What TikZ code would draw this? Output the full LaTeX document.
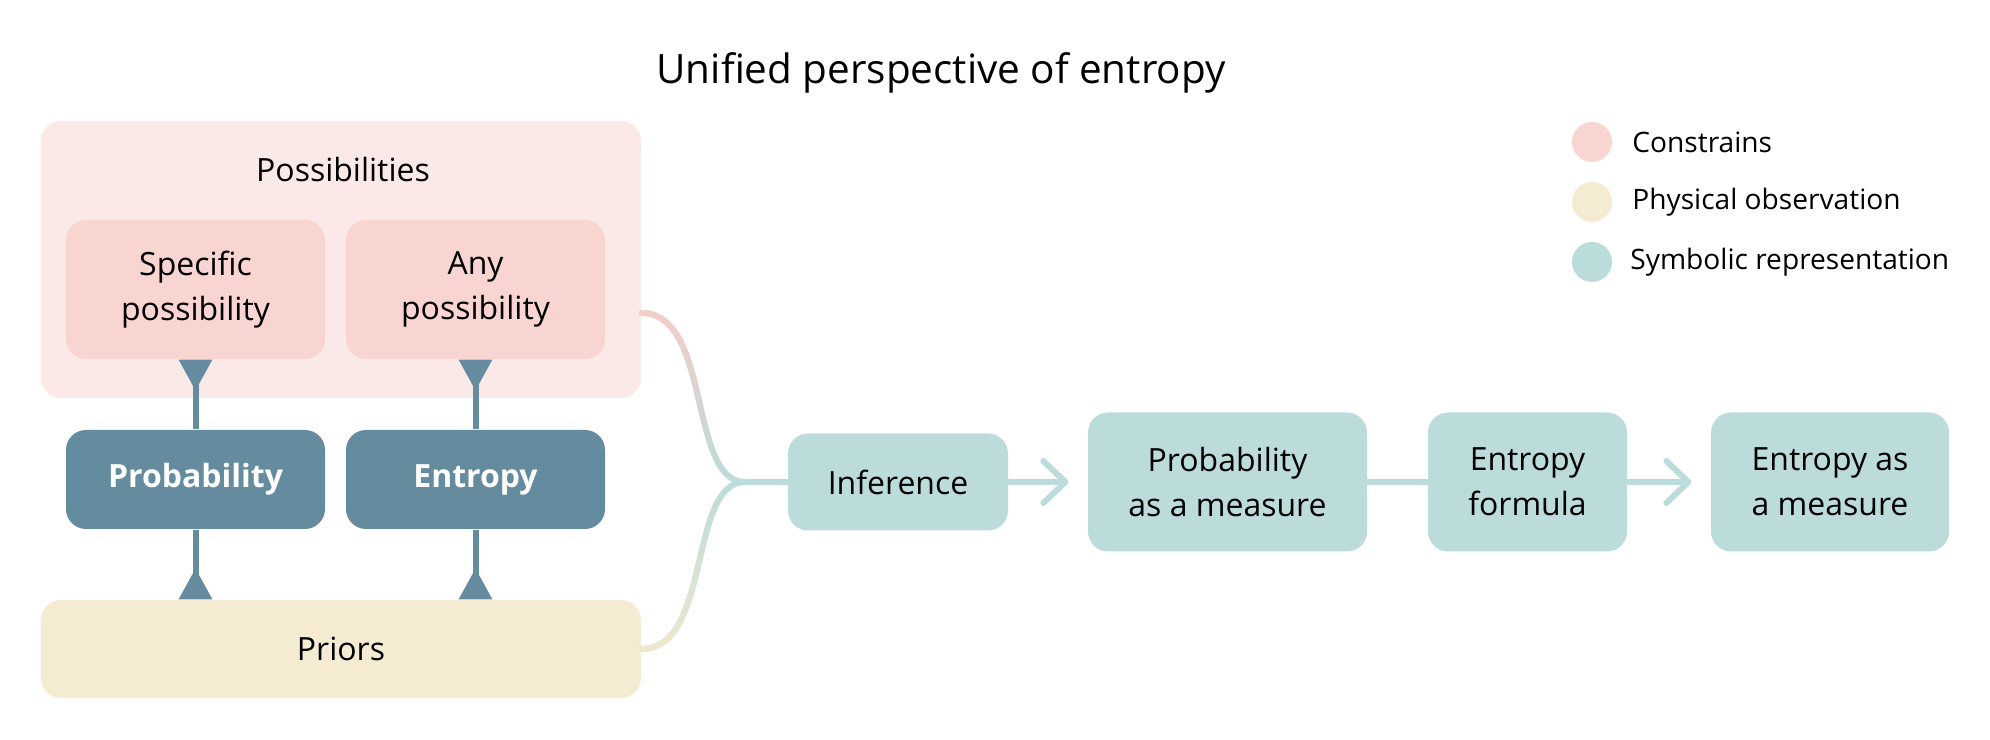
\documentclass[tikz,border=0pt]{standalone}
\usepackage{fontspec}
\setmainfont{Open Sans}
\usetikzlibrary{arrows.meta,positioning,fadings}

\definecolor{possBg}{RGB}{251,233,231}
\definecolor{possBox}{RGB}{249,213,210}
\definecolor{priorBox}{RGB}{245,235,210}
\definecolor{symbBox}{RGB}{187,220,219}
\definecolor{measBox}{RGB}{100,139,158}
\definecolor{flowPink}{RGB}{245,205,200}
\definecolor{flowBeige}{RGB}{240,232,205}

\tikzfading[name=fade down, top color=transparent!0, bottom color=transparent!100]
\tikzfading[name=fade up, top color=transparent!100, bottom color=transparent!0]

\begin{document}
\begin{tikzpicture}[
      line cap=round, line join=round, >=Latex,
      font=\fontsize{9.1}{12.8}\selectfont,
      card/.style={rounded corners=0.2cm, inner sep=0pt, align=center},
      constr/.style={card, fill=possBox, minimum width=2.59cm,
        minimum height=1.39cm},
      measure/.style={card, fill=measBox, text=white,
        font=\fontsize{9.1}{12.8}\selectfont\bfseries,
        minimum width=2.59cm, minimum height=0.99cm},
      symb/.style={card, fill=symbBox, minimum height=1.39cm},
      tie/.style={draw=measBox, line width=0.06cm, line cap=butt,
        -{Triangle[reversed, width=0.32cm, length=0.31cm]}},
      flow/.style={draw=symbBox, line width=0.06cm},
      flowarrow/.style={flow, shorten >=0.19cm,
        -{Straight Barb[length=0.22cm, width=0.42cm, round]}},
      legdot/.style={circle, minimum size=0.4cm, inner sep=0pt},
      legendtext/.style={anchor=west, inner sep=0pt,
        font=\fontsize{8.0}{10}\selectfont}
    ]

    \useasboundingbox (0,0) rectangle (19.9,7.4);

    % ------------------ Title ------------------
    \node[font=\fontsize{11.5}{14}\selectfont] (title) at (9.41,6.67)
    {Unified perspective of entropy};

    % ------------------ Possibilities group ------------------
    \node[card, fill=possBg, minimum width=6.00cm, minimum height=2.77cm]
    (poss) at (3.41,4.805) {};
    \node (possLabel) at (3.43,5.70) {Possibilities};
    \node[constr] (specific) at (1.955,4.505) {Specific\\possibility};
    \node[constr] (any) at (4.755,4.505) {Any\\possibility};

    % ------------------ Measures ------------------
    \node[measure] (probability) at (1.955,2.605) {Probability};
    \node[measure] (entropy) at (4.755,2.605) {Entropy};

    % ------------------ Priors ------------------
    \node[card, fill=priorBox, minimum width=6.00cm, minimum height=0.98cm]
    (priors) at (3.41,0.91) {Priors};

    % ------------------ Ties to constraints and priors ------------------
    \draw[tie] (probability) -- (specific);
    \draw[tie] (probability) -- (probability.south |- priors.north);
    \draw[tie] (entropy) -- (any);
    \draw[tie] (entropy) -- (entropy.south |- priors.north);

    % ------------------ Symbolic chain ------------------
    \node[symb, minimum width=2.20cm, minimum height=0.97cm]
    (inference) at (8.98,2.58) {Inference};
    \node[symb, minimum width=2.79cm] (probMeasure) at (12.275,2.58)
    {Probability\\as a measure};
    \node[symb, minimum width=1.99cm] (entFormula) at (15.275,2.58)
    {Entropy\\formula};
    \node[symb, minimum width=2.38cm] (entMeasure) at (18.30,2.58)
    {Entropy as\\a measure};

    % ------------------ Merging flows ------------------
    \coordinate (merge) at (7.45,2.58);
    \coordinate (possOut) at ([yshift=-0.535cm]poss.east);

    \draw[flow] (possOut) .. controls +(0.70,0) and +(-0.57,0) .. (merge);
    \draw[flow, draw=flowPink, path fading=fade down]
    (possOut) .. controls +(0.70,0) and +(-0.57,0) .. (merge);

    \draw[flow] (priors.east) .. controls +(0.70,0) and +(-0.57,0) .. (merge);
    \draw[flow, draw=flowBeige, path fading=fade up]
    (priors.east) .. controls +(0.70,0) and +(-0.57,0) .. (merge);

    \draw[flow] (merge) -- (inference);
    \draw[flowarrow] (inference) -- (probMeasure);
    \draw[flow] (probMeasure) -- (entFormula);
    \draw[flowarrow] (entFormula) -- (entMeasure);

    % ------------------ Legend ------------------
    \node[legdot, fill=possBox] (keyConstr) at (15.92,5.98) {};
    \node[legendtext, right=0.19cm of keyConstr] (keyConstrText) {Constrains};
    \node[legdot, fill=priorBox] (keyPhys) at (15.92,5.38) {};
    \node[legendtext, right=0.19cm of keyPhys] (keyPhysText)
    {Physical observation};
    \node[legdot, fill=symbBox] (keySymb) at (15.92,4.78) {};
    \node[legendtext, right=0.17cm of keySymb] (keySymbText)
    {Symbolic representation};

  \end{tikzpicture}
\end{document}
